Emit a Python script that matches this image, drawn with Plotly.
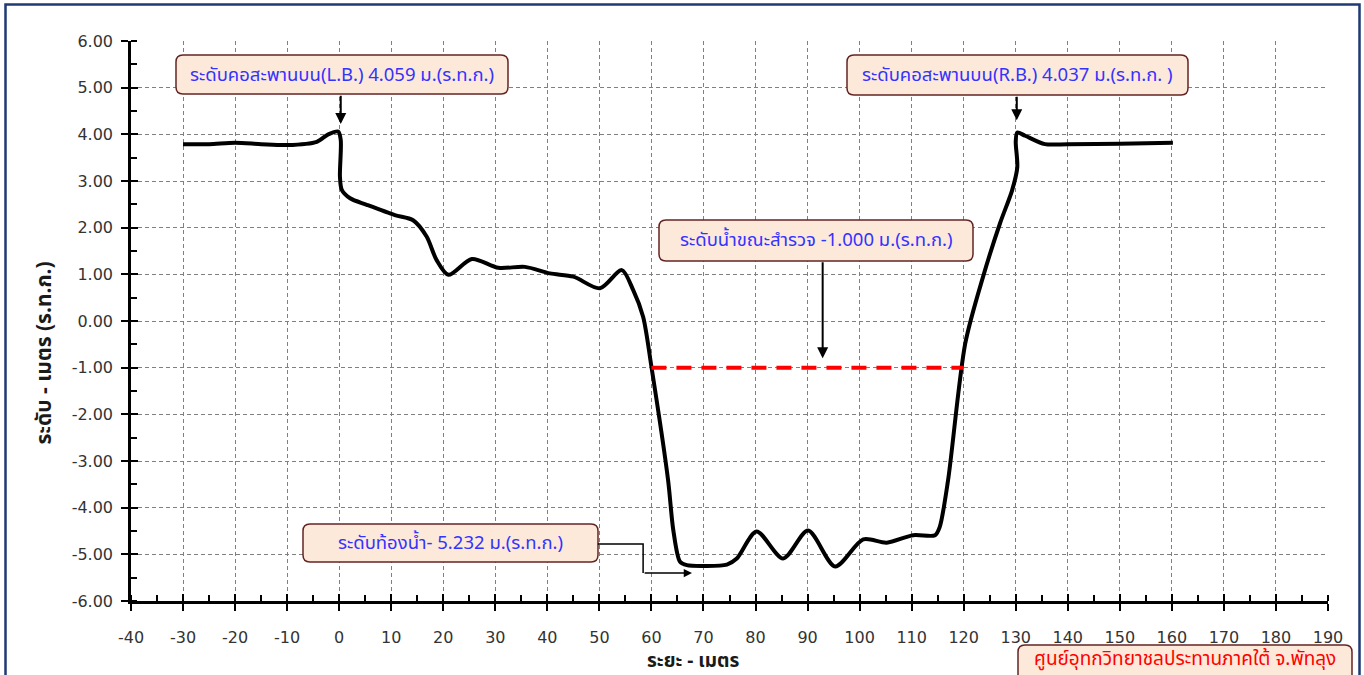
import plotly.graph_objects as go

# ---------------- data ----------------
distance = [-30, -25, -20, -15, -10, -4.3, -2.1, -0.2, 0.3, 0.15, 0.5, 2.1, 5.3, 10.7, 14.2, 16.8,
            18.7, 21.0, 25.5, 30.6, 35.7, 40.5, 45.0, 50.1, 54.3, 56.5, 58.4, 60.0, 63.2, 64.2,
            65.5, 66.8, 70.3, 74.5, 76.4, 80.2, 85.3, 90.1, 95.3, 100.7, 105.2, 110.3, 114.5,
            115.4, 117.0, 120.3, 123.7, 127.0, 129.3, 130.3, 130.0, 130.3, 131.8, 135.6, 140,
            150, 160.2]
elevation = [3.79, 3.79, 3.82, 3.79, 3.77, 3.84, 4.00, 4.06, 3.88, 3.09, 2.81, 2.63, 2.49, 2.27,
             2.16, 1.81, 1.31, 0.99, 1.33, 1.14, 1.16, 1.02, 0.95, 0.70, 1.09, 0.66, 0.09, -0.98,
             -3.41, -4.48, -5.16, -5.232, -5.25, -5.22, -5.09, -4.51, -5.09, -4.49, -5.26, -4.68,
             -4.75, -4.59, -4.59, -4.41, -3.41, -0.48, 0.94, 2.10, 2.80, 3.30, 3.85, 4.037, 3.97,
             3.79, 3.79, 3.80, 3.82]

water_x = [60, 120]
water_y = [-1.0, -1.0]

x_ticks = list(range(-40, 191, 10))
y_ticks = list(range(-6, 7, 1))
x_tick_text = [str(v) for v in x_ticks]
y_tick_text = [f"{v:.2f}" for v in y_ticks]

label_lb = "ระดับคอสะพานบน(L.B.) 4.059 ม.(ร.ท.ก.)"
label_rb = "ระดับคอสะพานบน(R.B.) 4.037 ม.(ร.ท.ก. )"
label_wl = "ระดับน้ำขณะสำรวจ -1.000 ม.(ร.ท.ก.)"
label_bed = "ระดับท้องน้ำ- 5.232 ม.(ร.ท.ก.)"
label_org = "ศูนย์อุทกวิทยาชลประทานภาคใต้ จ.พัทลุง"
x_title = "ระยะ - เมตร"
y_title = "ระดับ - เมตร (ร.ท.ก.)"

# ---------------- layout helpers ----------------
W, H = 1364, 675
L, R, T, B = 131, 1328, 41, 601


def px(xp):
    return (xp - L) / (R - L)


def py(yp):
    return (B - yp) / (B - T)


def rrect(x0, y0, x1, y1, r=7):
    pts = [
        ("M", px(x0 + r), py(y0)),
        ("L", px(x1 - r), py(y0)),
        ("Q", px(x1), py(y0), px(x1), py(y0 + r)),
        ("L", px(x1), py(y1 - r)),
        ("Q", px(x1), py(y1), px(x1 - r), py(y1)),
        ("L", px(x0 + r), py(y1)),
        ("Q", px(x0), py(y1), px(x0), py(y1 - r)),
        ("L", px(x0), py(y0 + r)),
        ("Q", px(x0), py(y0), px(x0 + r), py(y0)),
    ]
    s = ""
    for p in pts:
        nums = p[1:]
        coords = " ".join(f"{nums[i]:.5f},{nums[i+1]:.5f}" for i in range(0, len(nums), 2))
        s += f"{p[0]} {coords} "
    return s + "Z"


THAI = "Tahoma, 'Noto Sans Thai', 'Leelawadee UI', 'Noto Sans', sans-serif"
NUM = "Tahoma, 'DejaVu Sans', sans-serif"

fig = go.Figure()

fig.add_trace(go.Scatter(
    x=distance, y=elevation, mode="lines",
    line=dict(color="black", width=4, shape="spline", smoothing=0.8),
    hoverinfo="skip", showlegend=False))

fig.add_trace(go.Scatter(
    x=water_x, y=water_y, mode="lines",
    line=dict(color="#FF0000", width=4, dash="15px,10px"),
    hoverinfo="skip", showlegend=False))

# dummy trace for overlay axes (crossing major ticks)
fig.add_trace(go.Scatter(x=[-40], y=[-6], xaxis="x2", yaxis="y2", mode="markers",
                         marker=dict(opacity=0), hoverinfo="skip", showlegend=False))

shapes = []
annotations = []

# outer frame
shapes.append(dict(type="rect", xref="paper", yref="paper",
                   x0=px(5.5), x1=px(1359.5), y0=py(720), y1=py(4.5),
                   line=dict(color="#1F3A75", width=2.5), fillcolor="rgba(0,0,0,0)", layer="below"))

boxes = [
    (176, 55, 508, 94, label_lb, "#3333FF", 18.5),
    (847, 55, 1188, 95, label_rb, "#3333FF", 18.5),
    (659, 220, 973, 261, label_wl, "#3333FF", 18.5),
    (303, 524, 598, 562, label_bed, "#3333FF", 18.5),
    (1018, 645, 1352, 700, label_org, "#FF0000", 19),
]
for (x0, y0, x1, y1, txt, col, fs) in boxes:
    shapes.append(dict(type="path", xref="paper", yref="paper", path=rrect(x0, y0, x1, y1),
                       fillcolor="#FDE9D9", line=dict(color="#632523", width=1.5), layer="above"))
    ty = (y0 + y1) / 2 if y1 < 690 else 659
    annotations.append(dict(xref="paper", yref="paper", x=px((x0 + x1) / 2), y=py(ty),
                            text=txt, showarrow=False, xanchor="center", yanchor="middle",
                            font=dict(family=THAI, size=fs, color=col)))

# arrows
arrow_common = dict(showarrow=True, arrowhead=2, arrowsize=1.1, arrowwidth=2,
                    arrowcolor="black", text="", xref="x", yref="y", axref="x", ayref="y")
annotations.append(dict(x=0.3, y=4.22, ax=0.3, ay=4.86, **arrow_common))
annotations.append(dict(x=130.2, y=4.30, ax=130.2, ay=4.84, **arrow_common))
annotations.append(dict(x=92.9, y=-0.80, ax=92.9, ay=1.29, **arrow_common))
annotations.append(dict(x=67.8, y=-5.40, ax=58.4, ay=-5.40,
                        **{**arrow_common, "arrowwidth": 1.5}))
shapes.append(dict(type="path", xref="x", yref="y",
                   path="M 49.7,-4.78 L 58.4,-4.78 L 58.4,-5.40",
                   line=dict(color="black", width=1.5)))

# axis titles
annotations.append(dict(xref="paper", yref="paper", x=px(693), y=py(661), text=f"<b>{x_title}</b>",
                        showarrow=False, yanchor="middle",
                        font=dict(family=THAI, size=19, color="#1a1a1a")))
annotations.append(dict(xref="paper", yref="paper", x=px(26), y=py(353), text=f"<b>{y_title}</b>",
                        textangle=-90, showarrow=False, font=dict(family=THAI, size=21, color="#1a1a1a")))

grid = dict(showgrid=True, gridcolor="#808080", gridwidth=1, griddash="4px,3px", zeroline=False)

fig.update_layout(
    width=W, height=H,
    margin=dict(l=L, r=W - R, t=T, b=H - B, pad=0),
    paper_bgcolor="white", plot_bgcolor="white",
    shapes=shapes, annotations=annotations,
    xaxis=dict(range=[-40, 190], tickvals=x_ticks, ticktext=x_tick_text, ticks="outside",
               ticklen=7, tickwidth=2, ticklabelstandoff=13,
               tickcolor="black", showline=True, linecolor="black", linewidth=2.5,
               minor=dict(ticks="inside", dtick=5, tick0=0, ticklen=6, tickwidth=1.5,
                          tickcolor="black", showgrid=False),
               tickfont=dict(family=NUM, size=16, color="#333333"), fixedrange=True, **grid),
    yaxis=dict(range=[-6, 6], tickvals=y_ticks, ticktext=y_tick_text, ticks="outside", ticklen=7,
               tickwidth=2, tickcolor="black", showline=True, linecolor="black", linewidth=2.5,
               ticklabelstandoff=5,
               minor=dict(ticks="inside", dtick=0.5, tick0=0, ticklen=6, tickwidth=1.5,
                          tickcolor="black", showgrid=False),
               tickfont=dict(family=NUM, size=16, color="#333333"), fixedrange=True, **grid),
    xaxis2=dict(range=[-40, 190], overlaying="x", tickvals=x_ticks, ticks="inside", ticklen=7,
                tickwidth=2, tickcolor="black", showticklabels=False, showgrid=False,
                zeroline=False, showline=False, side="bottom", fixedrange=True),
    yaxis2=dict(range=[-6, 6], overlaying="y", tickvals=y_ticks, ticks="inside", ticklen=7,
                tickwidth=2, tickcolor="black", showticklabels=False, showgrid=False,
                zeroline=False, showline=False, side="left", fixedrange=True),
    showlegend=False,
)

fig.write_html("out.html", config={"displayModeBar": False},
               post_script="document.body.style.margin='0';document.body.style.overflow='hidden';")
